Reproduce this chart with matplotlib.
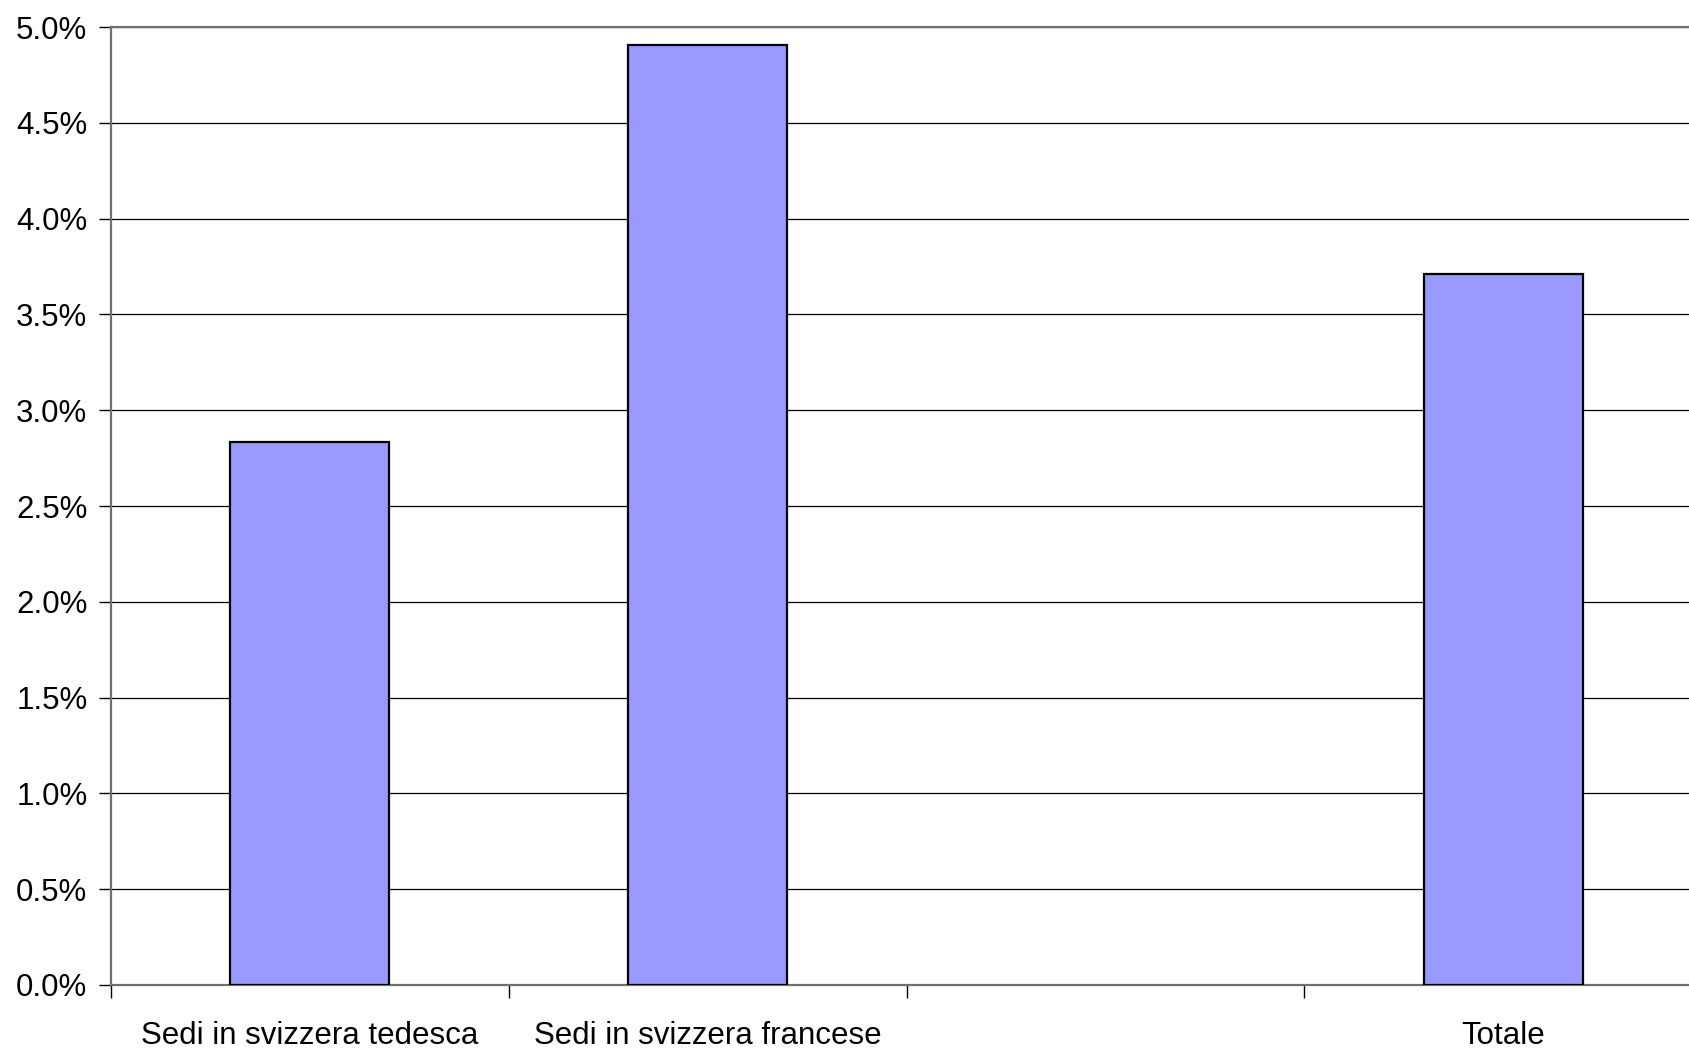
import matplotlib
matplotlib.use('Agg')
import numpy as np
import matplotlib.pyplot as plt
from matplotlib.ticker import FuncFormatter, FixedLocator

plt.rcParams['font.family'] = ['Liberation Sans', 'DejaVu Sans']

categories = ['Sedi in svizzera tedesca', 'Sedi in svizzera francese', '', 'Totale']
values = [2.835, 4.905, np.nan, 3.712]  # percent
yticks = np.arange(0, 5.01, 0.5)

fig = plt.figure(figsize=(16.9, 10.51), dpi=100)
ax = fig.add_axes([0.0657, 0.0628, 0.9414, 0.9115])

x = np.arange(len(categories))
ax.bar(x, values, width=0.40, color='#9999FF', edgecolor='black', linewidth=1.6, zorder=3)

ax.set_xlim(-0.5, len(categories) - 0.5)
ax.set_ylim(0, 5.0)
ax.set_yticks(yticks)
ax.yaxis.set_major_formatter(FuncFormatter(lambda v, p: '%.1f%%' % v))
ax.yaxis.grid(True, color='black', linewidth=0.9, zorder=0)

# labels at centres, tick marks at category boundaries
ax.set_xticks(x)
ax.set_xticklabels(categories)
ax.xaxis.set_minor_locator(FixedLocator(np.arange(-0.5, len(categories), 1.0)))
ax.tick_params(axis='x', which='major', length=0, pad=26, labelsize=22.5)
ax.tick_params(axis='x', which='minor', length=9, width=1, color='black', direction='out')
ax.tick_params(axis='y', length=9, width=1, color='black', pad=8, labelsize=22.5)

for s in ['left', 'bottom', 'top']:
    ax.spines[s].set_color('#707070')
    ax.spines[s].set_linewidth(1.6)
ax.spines['right'].set_visible(False)
ax.set_axisbelow(True)

plt.savefig('out.png', dpi=100)
